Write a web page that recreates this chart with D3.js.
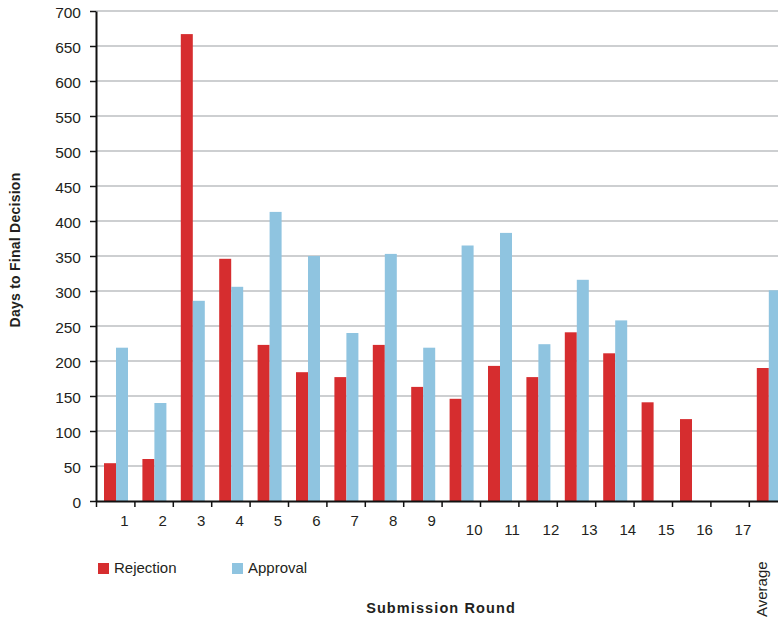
<!DOCTYPE html>
<html>
<head>
<meta charset="utf-8">
<script src="https://cdn.jsdelivr.net/npm/d3@7/dist/d3.min.js"></script>
<style>
  html, body { margin: 0; padding: 0; background: #fff; }
  svg { display: block; font-family: "Liberation Sans", Arial, sans-serif; }
</style>
</head>
<body>
<svg id="chart" width="778" height="621"></svg>
<script>
// Days to final decision per submission round
const categories = ["1","2","3","4","5","6","7","8","9","10","11","12","13","14","15","16","17","Average"];
const rejection = [54, 60, 667, 346, 223, 184, 177, 223, 163, 146, 193, 177, 241, 211, 141, 117, null, 190];
const approval  = [219, 140, 286, 306, 413, 350, 240, 353, 219, 365, 383, 224, 316, 258, null, null, null, 301];
const seriesNames = ["Rejection", "Approval"];
const seriesColors = ["#d62d2f", "#8fc4e0"];
const yTicks = [0, 50, 100, 150, 200, 250, 300, 350, 400, 450, 500, 550, 600, 650, 700];

const svg = d3.select("#chart");
const textColor = "#231f20";

const plotLeft = 96, plotTop = 11, plotBottom = 501;
const step = 38.4;
const plotRight = plotLeft + step * categories.length; // extends past the visible area

const y = d3.scaleLinear().domain([0, 700]).range([plotBottom, plotTop]);
const x0 = d3.scaleBand().domain(categories).range([plotLeft, plotRight]).padding(0);
const x1 = d3.scaleBand().domain(seriesNames).range([0.8, x0.bandwidth() + 0.8])
  .paddingInner(0).paddingOuter(0.6);

// gridlines
svg.append("g")
  .selectAll("line")
  .data(yTicks.filter(d => d > 0))
  .join("line")
  .attr("x1", plotLeft).attr("x2", plotRight)
  .attr("y1", d => y(d)).attr("y2", d => y(d))
  .attr("stroke", "#bcbfc2")
  .attr("stroke-width", 1.5);

// bars
const rows = categories.map((c, i) => ({ cat: c, values: [rejection[i], approval[i]] }));
const groups = svg.append("g")
  .selectAll("g")
  .data(rows)
  .join("g")
  .attr("transform", d => `translate(${x0(d.cat)},0)`);

groups.selectAll("rect")
  .data(d => d.values.map((v, j) => ({ name: seriesNames[j], v, j })).filter(e => e.v != null))
  .join("rect")
  .attr("x", e => x1(e.name))
  .attr("width", x1.bandwidth())
  .attr("y", e => y(e.v))
  .attr("height", e => y(0) - y(e.v))
  .attr("fill", e => seriesColors[e.j]);

// y axis
const yAxis = svg.append("g")
  .attr("transform", `translate(${plotLeft},0)`)
  .call(d3.axisLeft(y).tickValues(yTicks).tickSize(6).tickPadding(9).tickSizeOuter(0));
yAxis.select(".domain").attr("stroke", "#111").attr("stroke-width", 2);
yAxis.selectAll(".tick line").attr("stroke", "#111").attr("stroke-width", 1.5);
yAxis.selectAll(".tick text")
  .attr("fill", textColor)
  .attr("font-size", 15.5)
  .attr("font-family", "Liberation Sans, Arial, sans-serif")
  .attr("dy", "0.45em");

// x axis: ticks at category boundaries
const xb = d3.scaleLinear().domain([0, categories.length]).range([plotLeft, plotRight]);
const xAxis = svg.append("g")
  .attr("transform", `translate(0,${plotBottom})`)
  .call(d3.axisBottom(xb).tickValues(d3.range(0, categories.length + 1)).tickFormat("").tickSize(6).tickSizeOuter(0));
xAxis.select(".domain").attr("stroke", "#111").attr("stroke-width", 2);
xAxis.selectAll(".tick line").attr("stroke", "#111").attr("stroke-width", 1.5);

// category labels
const catLabels = svg.append("g")
  .attr("font-size", 15)
  .attr("fill", textColor);
catLabels.selectAll("text.num")
  .data(categories.filter(c => c !== "Average"))
  .join("text")
  .attr("class", "num")
  .attr("x", c => x0(c) + x0.bandwidth() / 2 + 5)
  .attr("y", c => c.length > 1 ? 535 : 526)
  .text(c => c);
catLabels.append("text")
  .attr("transform", `translate(${x0("Average") + x0.bandwidth() / 2 - 1},617) rotate(-90)`)
  .attr("text-anchor", "start")
  .text("Average");

// legend
const legend = svg.append("g").attr("font-size", 15).attr("fill", textColor);
const legendX = [98, 232];
seriesNames.forEach((name, i) => {
  legend.append("rect")
    .attr("x", legendX[i]).attr("y", 563)
    .attr("width", 11).attr("height", 11)
    .attr("fill", seriesColors[i]);
  legend.append("text")
    .attr("x", legendX[i] + 16).attr("y", 573)
    .text(name);
});

// axis titles
svg.append("text")
  .attr("x", 441).attr("y", 613)
  .attr("text-anchor", "middle")
  .attr("font-size", 14.5).attr("font-weight", "bold")
  .attr("letter-spacing", 1.1)
  .attr("fill", textColor)
  .text("Submission Round");

svg.append("text")
  .attr("transform", "translate(20,250) rotate(-90)")
  .attr("text-anchor", "middle")
  .attr("font-size", 14).attr("font-weight", "bold")
  .attr("letter-spacing", 0.25)
  .attr("fill", textColor)
  .text("Days to Final Decision");
</script>
</body>
</html>
